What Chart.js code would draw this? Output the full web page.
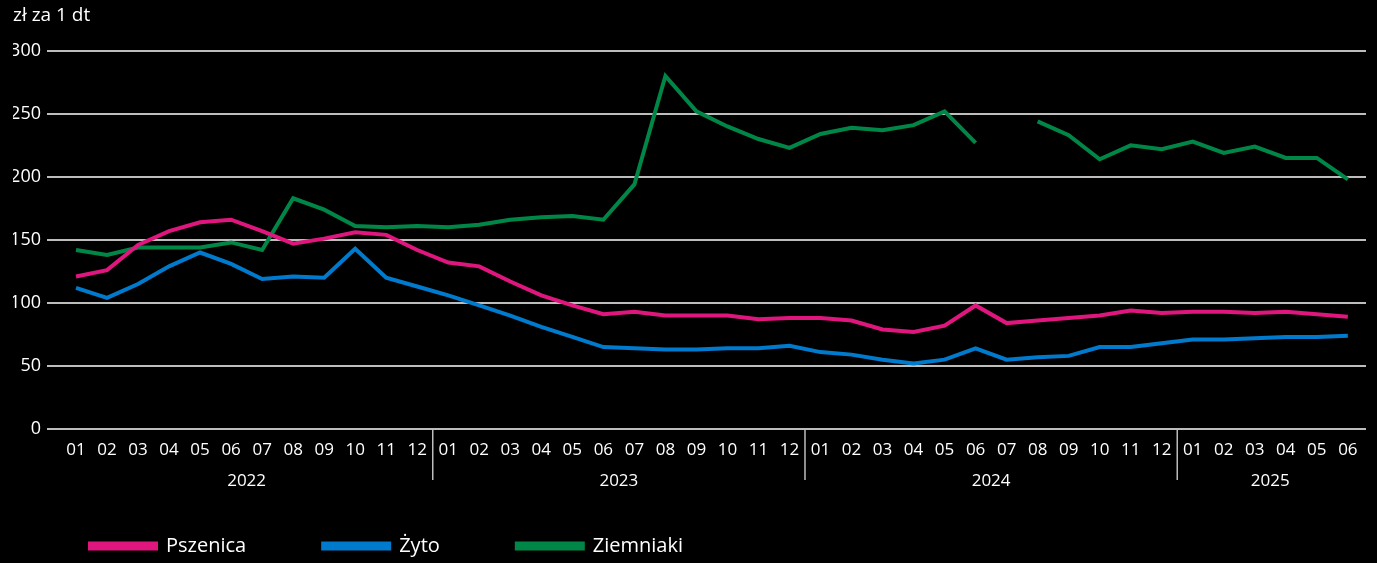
<!DOCTYPE html>
<html>
<head>
<meta charset="utf-8">
<script src="https://cdn.jsdelivr.net/npm/chart.js@4"></script>
<style>
  body { margin: 0; background: #000; }
  #wrap { width: 1377px; height: 563px; position: relative; }
</style>
</head>
<body>
<div id="wrap"><canvas id="myChart"></canvas></div>
<script>
// dane: ceny skupu (zł za 1 dt), 01.2022 - 06.2025
var months = ['01','02','03','04','05','06','07','08','09','10','11','12',
              '01','02','03','04','05','06','07','08','09','10','11','12',
              '01','02','03','04','05','06','07','08','09','10','11','12',
              '01','02','03','04','05','06'];
var years = ['2022','2023','2024','2025'];

var pszenica = [121,126,146,157,164,166,157,147,151,156,154,142,
                132,129,117,106,98,91,93,90,90,90,87,88,
                88,86,79,77,82,98,84,86,88,90,94,92,
                93,93,92,93,91,89];
var zyto = [112,104,115,129,140,131,119,121,120,143,120,113,
            106,98,90,81,73,65,64,63,63,64,64,66,
            61,59,55,52,55,64,55,57,58,65,65,68,
            71,71,72,73,73,74];
var ziemniaki = [142,138,144,144,144,148,142,183,174,161,160,161,
                 160,162,166,168,169,166,194,280,252,240,230,223,
                 234,239,237,241,252,227,null,244,233,214,225,222,
                 228,219,224,215,215,198];

var yTicks = [0, 50, 100, 150, 200, 250, 300];

var FONT = '"Open Sans", "Noto Sans", sans-serif';
var GRID = '#bdbdbd';

function toXY(arr) {
    return arr.map(function (v, i) { return {x: i, y: v}; });
}

// podpisy lat i separatory pod osia X
var yearLabels = {
    id: 'yearLabels',
    afterDraw: function (chart) {
        var sx = chart.scales.x;
        var area = chart.chartArea;
        var ctx = chart.ctx;
        // grupy miesiecy wg roku
        var groups = [];
        months.forEach(function (m, i) {
            if (i === 0 || m === '01') groups.push([i, i]);
            else groups[groups.length - 1][1] = i;
        });
        ctx.save();
        ctx.fillStyle = '#fff';
        ctx.font = '17px ' + FONT;
        ctx.textAlign = 'center';
        ctx.textBaseline = 'middle';
        ctx.strokeStyle = GRID;
        ctx.lineWidth = 1.5;
        groups.forEach(function (g, k) {
            var x0 = sx.getPixelForValue(g[0]);
            var x1 = sx.getPixelForValue(g[1]);
            ctx.fillText(years[k], (x0 + x1) / 2, area.bottom + 52);
            if (k > 0) {
                var sep = (x0 + sx.getPixelForValue(g[0] - 1)) / 2;
                ctx.beginPath();
                ctx.moveTo(sep, area.bottom);
                ctx.lineTo(sep, area.bottom + 51);
                ctx.stroke();
            }
        });
        ctx.restore();
    }
};

var ctx = document.getElementById('myChart').getContext('2d');
var myChart = new Chart(ctx, {
    type: 'line',
    data: {
        datasets: [{
            label: 'Pszenica',
            data: toXY(pszenica),
            borderColor: 'rgb(222, 22, 126)',
            backgroundColor: 'rgb(222, 22, 126)',
            borderWidth: 4
        }, {
            label: 'Żyto',
            data: toXY(zyto),
            borderColor: 'rgb(0, 122, 204)',
            backgroundColor: 'rgb(0, 122, 204)',
            borderWidth: 4
        }, {
            label: 'Ziemniaki',
            data: toXY(ziemniaki),
            borderColor: 'rgb(0, 135, 72)',
            backgroundColor: 'rgb(0, 135, 72)',
            borderWidth: 4
        }]
    },
    options: {
        responsive: true,
        maintainAspectRatio: false,
        animation: false,
        spanGaps: false,
        elements: {
            point: { radius: 0, hoverRadius: 0 },
            line: { tension: 0, borderJoinStyle: 'miter' }
        },
        layout: { padding: { left: 13, right: 11, top: 0, bottom: -3 } },
        plugins: {
            title: {
                display: true,
                text: 'zł za 1 dt',
                align: 'start',
                color: '#fff',
                font: { family: FONT, size: 19, weight: 'normal' },
                padding: { top: 4, bottom: 24 }
            },
            legend: {
                position: 'bottom',
                align: 'start',
                labels: {
                    color: '#fff',
                    boxWidth: 66,
                    boxHeight: 5,
                    padding: 77,
                    font: { family: FONT, size: 20 }
                }
            },
            tooltip: { enabled: false }
        },
        scales: {
            x: {
                type: 'linear',
                min: -0.935,
                max: 41.585,
                grid: { display: false },
                border: { display: false },
                ticks: {
                    stepSize: 1,
                    maxTicksLimit: 100,
                    includeBounds: false,
                    autoSkip: false,
                    maxRotation: 0,
                    padding: 3,
                    color: '#fff',
                    font: { family: FONT, size: 17 },
                    callback: function (v) { return months[v] || ''; }
                },
                afterFit: function (scale) { scale.height = 30; }
            },
            y: {
                min: 0,
                max: 300,
                grid: { color: GRID, lineWidth: 2, drawTicks: false },
                border: { display: false },
                afterBuildTicks: function (scale) {
                    scale.ticks = yTicks.map(function (v) { return {value: v}; });
                },
                ticks: {
                    padding: 6,
                    color: '#fff',
                    font: { family: FONT, size: 18 }
                },
                afterFit: function (scale) { scale.width = 34; }
            }
        }
    },
    plugins: [yearLabels]
});
</script>
</body>
</html>
